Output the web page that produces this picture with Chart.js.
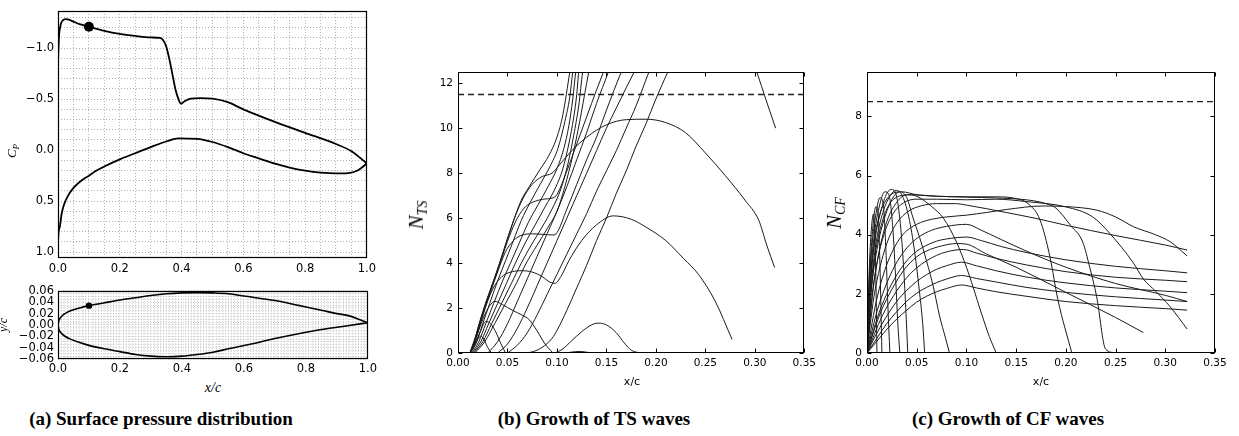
<!DOCTYPE html>
<html>
<head>
<meta charset="utf-8">
<script src="https://cdn.jsdelivr.net/npm/chart.js"></script>
<style>
  body { margin: 0; background: #fff; }
  #fig { position: relative; width: 1239px; height: 436px; overflow: hidden; background: #fff; }
  canvas { position: absolute; }
  .lbl { position: absolute; white-space: nowrap; color: #000; transform: translate(-50%, -50%); line-height: 1; }
  .rot { transform: translate(-50%, -50%) rotate(-90deg); }
  .math { font-family: "Liberation Serif", serif; font-style: italic; }
  .sans { font-family: "DejaVu Sans", sans-serif; }
  .cap { font-family: "Liberation Serif", serif; font-weight: bold; font-size: 19px; }
</style>
</head>
<body>
<div id="fig">
  <canvas id="cpChart" width="380" height="280" style="left:0;top:0"></canvas>
  <canvas id="foilChart" width="380" height="100" style="left:0;top:280px"></canvas>
  <canvas id="tsChart" width="440" height="340" style="left:380px;top:40px"></canvas>
  <canvas id="cfChart" width="419" height="340" style="left:820px;top:40px"></canvas>

  <div class="lbl rot math" style="left:13px;top:151px;font-size:13px">C<span style="font-size:9px;vertical-align:-0.3em">P</span></div>
  <div class="lbl rot math" style="left:3px;top:325px;font-size:12px">y/c</div>
  <div class="lbl math" style="left:213px;top:388px;font-size:14px">x/c</div>
  <div class="lbl rot math" style="left:418px;top:215px;font-size:21px">N<span style="font-size:14px;vertical-align:-0.3em">TS</span></div>
  <div class="lbl rot math" style="left:836px;top:213px;font-size:21px">N<span style="font-size:14px;vertical-align:-0.3em">CF</span></div>
  <div class="lbl sans" style="left:632px;top:381px;font-size:11px">x/c</div>
  <div class="lbl sans" style="left:1041px;top:381px;font-size:11px">x/c</div>

  <div class="lbl cap" style="left:161px;top:418px">(a) Surface pressure distribution</div>
  <div class="lbl cap" style="left:594px;top:418px">(b) Growth of TS waves</div>
  <div class="lbl cap" style="left:1008px;top:418px">(c) Growth of CF waves</div>
</div>

<script>
// ---- (a) pressure distribution, [x/c, Cp] ----
const cpUpper = [[0,-0.85],[0.003,-1.1],[0.008,-1.22],[0.015,-1.27],[0.025,-1.285],[0.035,-1.28],[0.05,-1.26],
  [0.07,-1.235],[0.1,-1.21],[0.15,-1.17],[0.2,-1.14],[0.25,-1.12],[0.3,-1.105],[0.33,-1.1],[0.34,-1.08],
  [0.35,-1.02],[0.36,-0.9],[0.37,-0.75],[0.38,-0.6],[0.39,-0.5],[0.398,-0.455],[0.41,-0.48],[0.43,-0.505],
  [0.46,-0.51],[0.5,-0.505],[0.55,-0.47],[0.6,-0.4],[0.7,-0.28],[0.8,-0.17],[0.9,-0.06],[0.95,0.01],[1.0,0.13]];
const cpLower = [[0,0.9],[0.002,0.8],[0.006,0.75],[0.012,0.62],[0.02,0.53],[0.03,0.46],[0.05,0.37],[0.075,0.3],
  [0.1,0.25],[0.125,0.2],[0.15,0.16],[0.2,0.09],[0.25,0.03],[0.3,-0.03],[0.35,-0.085],[0.39,-0.115],[0.45,-0.11],
  [0.5,-0.08],[0.55,-0.03],[0.6,0.03],[0.65,0.08],[0.7,0.13],[0.75,0.17],[0.8,0.2],[0.85,0.22],[0.9,0.228],
  [0.94,0.225],[0.97,0.2],[1.0,0.13]];
const cpMarker = [[0.1, -1.21]];
const cpXTicks = [0, 0.2, 0.4, 0.6, 0.8, 1.0];
const cpXLabels = ['0.0', '0.2', '0.4', '0.6', '0.8', '1.0'];
const cpYTicks = [-1.0, -0.5, 0, 0.5, 1.0];
const cpYLabels = ['\u22121.0', '\u22120.5', '0.0', '0.5', '1.0'];

// ---- (a) airfoil, [x/c, y/c] ----
const foilUpper = [[0,0],[0.003,0.008],[0.01,0.014],[0.02,0.019],[0.04,0.025],[0.07,0.03],[0.1,0.034],[0.15,0.039],
  [0.2,0.044],[0.25,0.048],[0.3,0.052],[0.35,0.055],[0.4,0.0565],[0.45,0.057],[0.5,0.0565],[0.55,0.055],[0.6,0.051],
  [0.7,0.043],[0.78,0.034],[0.85,0.026],[0.9,0.02],[0.94,0.016],[0.97,0.01],[1.0,0.004]];
const foilLower = [[0,0],[0.003,-0.008],[0.01,-0.014],[0.02,-0.019],[0.04,-0.025],[0.07,-0.031],[0.1,-0.036],
  [0.15,-0.042],[0.2,-0.047],[0.25,-0.052],[0.3,-0.055],[0.35,-0.056],[0.4,-0.055],[0.45,-0.052],[0.5,-0.048],
  [0.55,-0.042],[0.62,-0.034],[0.7,-0.024],[0.78,-0.015],[0.85,-0.008],[0.9,-0.004],[0.94,-0.001],[1.0,0.004]];
const foilMarker = [[0.1, 0.034]];
const foilYTicks = [-0.06, -0.04, -0.02, 0, 0.02, 0.04, 0.06];
const foilYLabels = ['\u22120.06', '\u22120.04', '\u22120.02', '0.00', '0.02', '0.04', '0.06'];

// ---- (b) TS N-factor curves, [x/c, N] ----
const tsHumpA = [[0.012,0],[0.016,0.3],[0.02,0.62],[0.023,0.75],[0.026,0.62],[0.03,0.25],[0.034,0]];
const tsHumpB = [[0.012,0],[0.018,0.5],[0.023,1.0],[0.028,1.4],[0.033,1.3],[0.038,0.95],[0.043,0.45],[0.048,0]];
const tsHumpC = [[0.012,0],[0.02,0.9],[0.027,1.7],[0.032,2.1],[0.037,2.3],[0.045,2.15],[0.055,1.9],[0.065,1.68],
  [0.072,1.48],[0.08,0.98],[0.088,0.4],[0.096,0]];
const tsHumpD = [[0.012,0],[0.019,0.9],[0.028,2.1],[0.037,3.0],[0.046,3.45],[0.055,3.62],[0.065,3.66],[0.075,3.6],
  [0.085,3.4],[0.093,3.15],[0.098,3.1],[0.104,3.4],[0.112,4.1],[0.125,5.0],[0.14,5.7],[0.157,6.1],[0.175,5.95],
  [0.19,5.6],[0.21,5.0],[0.228,4.2],[0.243,3.5],[0.26,2.3],[0.277,0.6]];
const tsHumpE = [[0.012,0],[0.016,0.45],[0.021,1.2],[0.028,2.2],[0.036,3.2],[0.043,4.1],[0.051,5.2],[0.058,6.1],
  [0.066,6.9],[0.075,7.5],[0.085,7.85],[0.095,8.0],[0.105,8.5],[0.115,9.0],[0.13,9.6],[0.15,10.15],[0.17,10.38],
  [0.19,10.4],[0.21,10.25],[0.23,9.8],[0.25,8.9],[0.27,7.9],[0.29,6.8],[0.304,5.9],[0.312,4.8],[0.32,3.8]];
const tsPlat53 = [[0.012,0],[0.018,0.6],[0.024,1.5],[0.032,2.6],[0.04,3.6],[0.048,4.5],[0.056,5.0],[0.065,5.25],
  [0.075,5.3],[0.085,5.28],[0.096,5.25],[0.1,5.35],[0.11,6.4],[0.12,7.5],[0.13,8.6],[0.14,9.6],[0.15,10.8],
  [0.165,12.5],[0.17,13.0]];
const tsPlat68 = [[0.012,0],[0.017,0.5],[0.022,1.3],[0.029,2.3],[0.037,3.3],[0.044,4.2],[0.052,5.2],[0.06,6.0],
  [0.068,6.5],[0.078,6.75],[0.088,6.85],[0.096,6.9],[0.1,7.05],[0.11,8.1],[0.12,9.3],[0.13,10.5],[0.14,11.7],
  [0.147,12.5],[0.15,12.9]];
const tsBundle1 = [[0.012,0],[0.016,0.4],[0.02,1.1],[0.027,2.1],[0.035,3.1],[0.042,4.0],[0.05,5.1],[0.057,6.0],
  [0.064,6.8],[0.072,7.4],[0.082,8.1],[0.092,8.8],[0.1,9.6],[0.106,10.6],[0.113,12.5],[0.116,13.3]];
const tsBundle2 = [[0.013,0],[0.019,0.5],[0.025,1.3],[0.032,2.2],[0.04,3.2],[0.048,4.1],[0.056,5.0],[0.064,5.9],
  [0.073,6.7],[0.083,7.5],[0.093,8.3],[0.101,9.1],[0.108,10.3],[0.113,11.4],[0.116,12.5],[0.12,13.4]];
const tsBundle3 = [[0.014,0],[0.021,0.5],[0.028,1.3],[0.036,2.2],[0.045,3.2],[0.053,4.0],[0.062,4.9],[0.071,5.8],
  [0.081,6.6],[0.091,7.4],[0.1,8.2],[0.107,9.1],[0.112,10.1],[0.116,11.3],[0.119,12.5],[0.123,13.4]];
const tsBundle4 = [[0.015,0],[0.023,0.5],[0.031,1.3],[0.04,2.2],[0.049,3.1],[0.058,4.0],[0.068,4.9],[0.078,5.7],
  [0.088,6.5],[0.098,7.3],[0.106,8.2],[0.112,9.3],[0.117,10.5],[0.12,11.5],[0.122,12.5],[0.126,13.4]];
const tsBundle5 = [[0.016,0],[0.025,0.5],[0.034,1.3],[0.044,2.2],[0.054,3.1],[0.064,4.0],[0.074,4.8],[0.085,5.6],
  [0.095,6.4],[0.104,7.3],[0.111,8.4],[0.117,9.7],[0.122,11.0],[0.126,12.5],[0.13,13.4]];
const tsBundle6 = [[0.017,0],[0.027,0.5],[0.037,1.3],[0.048,2.2],[0.059,3.1],[0.069,4.0],[0.08,4.8],[0.091,5.6],
  [0.1,6.3],[0.108,7.4],[0.116,8.8],[0.123,10.3],[0.13,12.0],[0.133,12.7]];
const tsLow1 = [[0.03,0],[0.04,0.5],[0.05,1.3],[0.06,2.3],[0.07,3.3],[0.08,4.3],[0.09,5.3],[0.1,6.3],[0.11,7.4],
  [0.12,8.6],[0.13,9.8],[0.14,11.1],[0.152,12.5],[0.156,13]];
const tsLow2 = [[0.04,0],[0.05,0.4],[0.06,1.1],[0.07,2.0],[0.08,3.0],[0.09,4.0],[0.1,5.0],[0.11,6.0],[0.12,7.0],
  [0.13,8.0],[0.14,9.0],[0.15,10.0],[0.16,10.9],[0.17,11.8],[0.178,12.5],[0.182,12.9]];
const tsLow3 = [[0.05,0],[0.06,0.35],[0.07,0.9],[0.08,1.7],[0.09,2.6],[0.1,3.5],[0.11,4.4],[0.12,5.3],[0.13,6.2],
  [0.14,7.2],[0.15,8.1],[0.16,9.0],[0.17,10.0],[0.18,11.0],[0.193,12.5],[0.2,13.2]];
const tsLow4 = [[0.065,0],[0.075,0.05],[0.085,0.25],[0.095,0.65],[0.1,1.0],[0.11,1.9],[0.12,2.9],[0.13,3.9],
  [0.14,5.0],[0.15,6.0],[0.16,7.1],[0.17,8.1],[0.18,9.2],[0.19,10.2],[0.2,11.3],[0.212,12.5],[0.23,14.2],
  [0.25,15.3],[0.27,15.4],[0.287,14.4],[0.302,12.5],[0.311,11.3],[0.321,10.0]];
const tsBottom1 = [[0.098,0],[0.105,0.15],[0.115,0.55],[0.125,0.95],[0.135,1.25],[0.142,1.33],[0.15,1.25],
  [0.16,0.9],[0.168,0.45],[0.175,0.13],[0.183,0.02],[0.2,0],[0.225,0]];
const tsBottom2 = [[0.108,0],[0.115,0.04],[0.122,0.07],[0.128,0.05],[0.135,0]];
const tsThreshold = 11.5;
const tsYTicks = [0, 2, 4, 6, 8, 10, 12];
const tsYLabels = ['0', '2', '4', '6', '8', '10', '12'];

// ---- (c) CF N-factor curves, [x/c, N] ----
const cfDrop1 = [[0,0],[0.002,2.6],[0.004,4.0],[0.0065,4.7],[0.008,3.9],[0.0092,2.0],[0.01,0]];
const cfDrop2 = [[0,0],[0.002,2.2],[0.005,3.9],[0.009,4.95],[0.011,4.8],[0.013,3.0],[0.015,0]];
const cfDrop3 = [[0,0],[0.002,2.0],[0.005,3.6],[0.009,4.7],[0.013,5.25],[0.016,5.1],[0.019,3.5],[0.021,1.6],[0.023,0]];
const cfDrop4 = [[0,0],[0.003,2.3],[0.007,3.9],[0.012,4.9],[0.018,5.45],[0.022,5.35],[0.026,4.2],[0.029,2.4],
  [0.031,1.0],[0.033,0]];
const cfDrop5 = [[0,0],[0.003,2.1],[0.008,3.8],[0.014,4.8],[0.02,5.4],[0.025,5.53],[0.03,5.25],[0.034,4.2],
  [0.037,2.8],[0.039,1.5],[0.041,0]];
const cfDrop6 = [[0,0],[0.004,2.2],[0.009,3.7],[0.016,4.75],[0.023,5.3],[0.029,5.5],[0.035,5.35],[0.042,4.6],
  [0.048,3.4],[0.053,2.0],[0.056,1.0],[0.058,0]];
const cfDrop7 = [[0,0],[0.004,2.0],[0.01,3.5],[0.018,4.6],[0.026,5.25],[0.033,5.45],[0.04,5.25],[0.046,4.6],
  [0.053,3.9],[0.06,3.1],[0.067,2.2],[0.073,1.25],[0.079,0.5],[0.083,0]];
const cfDrop8 = [[0,0],[0.005,1.9],[0.012,3.4],[0.02,4.45],[0.03,5.1],[0.04,5.35],[0.05,5.3],[0.065,4.95],
  [0.077,4.55],[0.09,3.75],[0.1,2.9],[0.107,2.2],[0.115,1.35],[0.123,0.56],[0.13,0]];
const cfLong1 = [[0,0],[0.01,0.4],[0.02,0.8],[0.03,1.15],[0.04,1.45],[0.05,1.72],[0.06,1.92],[0.07,2.07],[0.08,2.18],
  [0.095,2.3],[0.11,2.2],[0.13,2.07],[0.16,1.92],[0.2,1.74],[0.25,1.6],[0.3,1.5],[0.322,1.45]];
const cfLong2 = [[0,0],[0.01,0.5],[0.02,1.0],[0.03,1.4],[0.04,1.75],[0.05,2.02],[0.06,2.22],[0.07,2.38],[0.08,2.5],
  [0.095,2.62],[0.11,2.52],[0.13,2.4],[0.16,2.22],[0.2,2.05],[0.25,1.9],[0.3,1.79],[0.322,1.74]];
const cfLong3 = [[0,0],[0.008,0.55],[0.018,1.15],[0.03,1.75],[0.04,2.12],[0.05,2.42],[0.06,2.65],[0.07,2.83],
  [0.08,2.95],[0.095,3.07],[0.11,2.95],[0.13,2.78],[0.16,2.57],[0.2,2.37],[0.25,2.2],[0.3,2.09],[0.322,2.04]];
const cfLong4 = [[0,0],[0.007,0.6],[0.016,1.3],[0.027,1.95],[0.04,2.55],[0.05,2.88],[0.06,3.12],[0.07,3.3],
  [0.08,3.42],[0.097,3.5],[0.11,3.38],[0.13,3.2],[0.16,2.98],[0.2,2.75],[0.25,2.56],[0.3,2.46],[0.322,2.41]];
const cfShort = [[0,0],[0.006,0.65],[0.014,1.4],[0.025,2.15],[0.037,2.8],[0.05,3.25],[0.06,3.45],[0.075,3.62],
  [0.09,3.7],[0.1,3.68],[0.12,3.35],[0.15,2.9],[0.2,2.05],[0.25,1.2],[0.278,0.69]];
const cfLong5 = [[0,0],[0.005,0.6],[0.012,1.35],[0.022,2.15],[0.033,2.8],[0.045,3.3],[0.055,3.55],[0.07,3.78],
  [0.085,3.88],[0.1,3.92],[0.115,3.8],[0.135,3.6],[0.16,3.4],[0.2,3.15],[0.25,2.93],[0.3,2.78],[0.322,2.71]];
const cfLong6 = [[0,0],[0.004,0.6],[0.01,1.4],[0.018,2.2],[0.028,2.95],[0.04,3.55],[0.052,3.92],[0.065,4.15],
  [0.08,4.28],[0.1,4.35],[0.115,4.15],[0.134,3.85],[0.16,3.45],[0.2,2.9],[0.25,2.35],[0.3,1.95],[0.322,1.74]];
const cfLong7 = [[0,0],[0.003,0.9],[0.007,1.9],[0.013,2.9],[0.021,3.8],[0.03,4.4],[0.042,4.8],[0.055,4.98],
  [0.07,5.05],[0.09,5.05],[0.1,5.0],[0.12,4.88],[0.14,4.75],[0.17,4.55],[0.2,4.32],[0.25,3.97],[0.3,3.65],[0.322,3.48]];
const cfUpper4 = [[0,0],[0.004,0.8],[0.009,1.7],[0.016,2.6],[0.025,3.4],[0.036,4.0],[0.05,4.35],[0.065,4.52],
  [0.08,4.6],[0.1,4.66],[0.12,4.75],[0.14,4.85],[0.177,4.97],[0.2,4.95],[0.231,4.83],[0.25,4.6],[0.268,4.27],
  [0.29,4.0],[0.305,3.76],[0.322,3.28]];
const cfUpper3 = [[0,0],[0.003,1.1],[0.006,2.1],[0.011,3.2],[0.018,4.1],[0.027,4.75],[0.038,5.1],[0.05,5.2],
  [0.07,5.2],[0.1,5.18],[0.13,5.2],[0.16,5.12],[0.2,4.94],[0.227,4.6],[0.244,4.05],[0.268,3.04],[0.278,2.5],
  [0.29,2.1],[0.305,1.56],[0.322,0.81]];
const cfUpper2 = [[0,0],[0.002,1.2],[0.005,2.4],[0.009,3.5],[0.015,4.4],[0.022,5.0],[0.032,5.3],[0.045,5.35],
  [0.07,5.3],[0.1,5.27],[0.13,5.24],[0.16,5.18],[0.18,5.05],[0.19,4.9],[0.205,4.3],[0.217,3.75],[0.224,2.9],
  [0.231,1.9],[0.24,0.13],[0.251,0]];
const cfUpper1 = [[0,0],[0.002,1.4],[0.004,2.6],[0.007,3.7],[0.012,4.6],[0.018,5.1],[0.026,5.4],[0.035,5.45],
  [0.05,5.35],[0.07,5.3],[0.1,5.28],[0.13,5.28],[0.15,5.22],[0.162,5.05],[0.174,4.5],[0.184,3.25],[0.192,1.8],[0.206,0]];
const cfThreshold = 8.5;
const cfYTicks = [0, 2, 4, 6, 8];
const cfYLabels = ['0', '2', '4', '6', '8'];

// shared x ticks for (b) and (c)
const nXTicks = [0, 0.05, 0.1, 0.15, 0.2, 0.25, 0.3, 0.35];
const nXLabels = ['0.00', '0.05', '0.10', '0.15', '0.20', '0.25', '0.30', '0.35'];

Chart.defaults.font.family = '"DejaVu Sans", sans-serif';
Chart.defaults.color = '#000';

const toPoints = arr => arr.map(([x, y]) => ({x, y}));

function curve(points, width, color) {
  return {data: toPoints(points), showLine: true, borderColor: color, borderWidth: width,
          pointRadius: 0, fill: false, cubicInterpolationMode: 'monotone'};
}
function marker(points, r) {
  return {data: toPoints(points), showLine: false, pointRadius: r, backgroundColor: '#000', borderColor: '#000', borderWidth: 0};
}
function hline(y, x0, x1) {
  return {data: [{x: x0, y: y}, {x: x1, y: y}], showLine: true, borderColor: '#222', borderWidth: 1.3,
          borderDash: [6, 4], pointRadius: 0, fill: false};
}

// grid positions (styling only)
function steps(a, b, d) {
  const out = [];
  const n = Math.round((b - a) / d);
  for (let i = 0; i <= n; i++) out.push(+(a + i * d).toFixed(6));
  return out;
}

function labelFor(vals, labels) {
  return v => {
    const i = vals.findIndex(t => Math.abs(t - v) < 1e-9);
    return i < 0 ? '' : labels[i];
  };
}

// box round the plot and matplotlib-style inward ticks
const framePlugin = {
  id: 'frame',
  afterDatasetsDraw(chart, args, opts) {
    const {ctx, chartArea: a, scales} = chart;
    const l = Math.round(a.left) + 0.5, r = Math.round(a.right) - 0.5;
    const t = Math.round(a.top) + 0.5, b = Math.round(a.bottom) - 0.5;
    ctx.save();
    ctx.strokeStyle = '#000';
    ctx.lineWidth = opts.width || 1;
    if (opts.ticks) {
      const L = opts.ticks;
      ctx.beginPath();
      scales.x.ticks.forEach(tk => {
        const px = Math.round(scales.x.getPixelForValue(tk.value)) + 0.5;
        ctx.moveTo(px, b); ctx.lineTo(px, b - L);
        ctx.moveTo(px, t); ctx.lineTo(px, t + L);
      });
      scales.y.ticks.forEach(tk => {
        const py = Math.round(scales.y.getPixelForValue(tk.value)) + 0.5;
        ctx.moveTo(l, py); ctx.lineTo(l + L, py);
        ctx.moveTo(r, py); ctx.lineTo(r - L, py);
      });
      ctx.stroke();
    }
    ctx.strokeRect(l, t, r - l, b - t);
    ctx.restore();
  }
};

function makeChart(id, o) {
  const gridOn = !!o.grid;
  const axis = (ax) => ({
    type: 'linear', min: ax.min, max: ax.max, reverse: !!ax.reverse,
    afterBuildTicks: s => { s.ticks = ax.grid.map(v => ({value: v})); },
    afterFit: s => { if (ax.width) s.width = ax.width; if (ax.height) s.height = ax.height; },
    ticks: {autoSkip: false, maxRotation: 0, minRotation: 0, padding: ax.pad,
            font: {size: o.fontSize}, callback: labelFor(ax.vals, ax.labels)},
    grid: gridOn ? {display: true, drawTicks: false, color: o.grid.color, lineWidth: o.grid.width}
                 : {display: false, drawTicks: false},
    border: {display: false, dash: gridOn ? o.grid.dash : []}
  });
  return new Chart(document.getElementById(id), {
    type: 'scatter',
    data: {datasets: o.datasets},
    options: {
      responsive: false, animation: false, events: [],
      layout: {padding: o.padding},
      plugins: {legend: {display: false}, tooltip: {enabled: false}, frame: o.frame},
      scales: {x: axis(o.x), y: axis(o.y)}
    },
    plugins: [framePlugin]
  });
}

// (a) top: Cp
makeChart('cpChart', {
  padding: {top: 5, right: 12, left: 0, bottom: 0},
  fontSize: 11.5,
  grid: {color: '#9a9a9a', width: 0.8, dash: [1, 2]},
  frame: {width: 1.2, ticks: 0},
  x: {min: 0, max: 1, grid: steps(0, 1, 0.05), vals: cpXTicks, labels: cpXLabels, height: 22, pad: 4},
  y: {min: -1.365, max: 1.057, reverse: true, grid: steps(-1.3, 1.0, 0.1), vals: cpYTicks, labels: cpYLabels, width: 58, pad: 4},
  datasets: [curve(cpUpper, 1.8, '#000'), curve(cpLower, 1.8, '#000'), marker(cpMarker, 5)]
});

// (a) bottom: airfoil
makeChart('foilChart', {
  padding: {top: 6, right: 12, left: 0, bottom: 0},
  fontSize: 11.5,
  grid: {color: '#b4b4b4', width: 0.7, dash: [1, 1.5]},
  frame: {width: 1.2, ticks: 0},
  x: {min: 0, max: 1, grid: steps(0, 1, 0.01), vals: cpXTicks, labels: cpXLabels, height: 21, pad: 3},
  y: {min: -0.06, max: 0.06, grid: steps(-0.06, 0.06, 0.005), vals: foilYTicks, labels: foilYLabels, width: 58, pad: 4},
  datasets: [curve(foilUpper, 1.6, '#000'), curve(foilLower, 1.6, '#000'), marker(foilMarker, 3.2)]
});

// (b) TS waves
const tsAll = [tsHumpA, tsHumpB, tsHumpC, tsHumpD, tsHumpE, tsPlat53, tsPlat68,
  tsBundle1, tsBundle2, tsBundle3, tsBundle4, tsBundle5, tsBundle6,
  tsLow1, tsLow2, tsLow3, tsLow4, tsBottom1, tsBottom2];
makeChart('tsChart', {
  padding: {top: 32, right: 14, left: 0, bottom: 0},
  fontSize: 10.5,
  frame: {width: 1, ticks: 4},
  x: {min: 0, max: 0.35, grid: nXTicks, vals: nXTicks, labels: nXLabels, height: 27, pad: 4},
  y: {min: 0, max: 12.5, grid: tsYTicks, vals: tsYTicks, labels: tsYLabels, width: 78, pad: 5},
  datasets: [hline(tsThreshold, 0, 0.35)].concat(tsAll.map(c => curve(c, 1, '#1a1a1a')))
});

// (c) CF waves
const cfAll = [cfDrop1, cfDrop2, cfDrop3, cfDrop4, cfDrop5, cfDrop6, cfDrop7, cfDrop8,
  cfLong1, cfLong2, cfLong3, cfLong4, cfShort, cfLong5, cfLong6, cfLong7,
  cfUpper4, cfUpper3, cfUpper2, cfUpper1];
makeChart('cfChart', {
  padding: {top: 32, right: 24, left: 0, bottom: 0},
  fontSize: 10.5,
  frame: {width: 1, ticks: 4},
  x: {min: 0, max: 0.35, grid: nXTicks, vals: nXTicks, labels: nXLabels, height: 27, pad: 4},
  y: {min: 0, max: 9.5, grid: cfYTicks, vals: cfYTicks, labels: cfYLabels, width: 47, pad: 5},
  datasets: [hline(cfThreshold, 0, 0.35)].concat(cfAll.map(c => curve(c, 1, '#1a1a1a')))
});
</script>
</body>
</html>
